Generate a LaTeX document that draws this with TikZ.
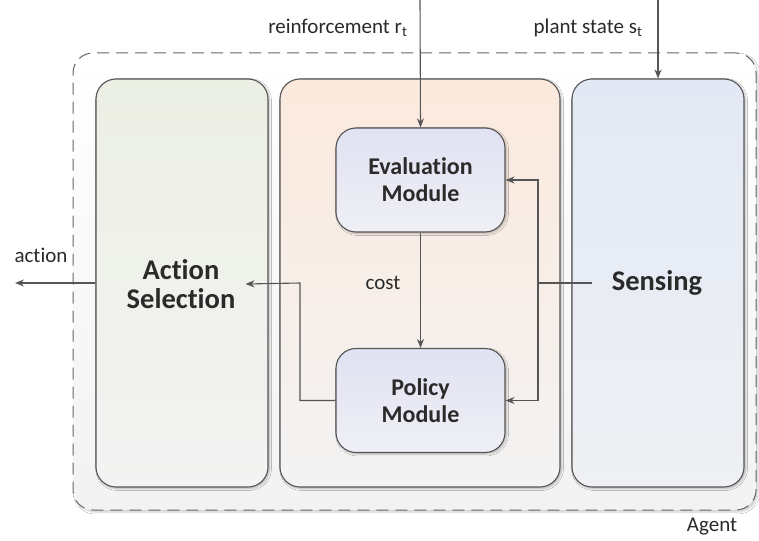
\documentclass[tikz,border=0pt]{standalone}
\usepackage{fontspec}
\setmainfont[Ligatures=NoCommon]{Carlito}
\usetikzlibrary{arrows.meta,shadows.blur}
\definecolor{linegray}{HTML}{555555}
\definecolor{txtgray}{HTML}{2A2A2A}
\definecolor{modtop}{HTML}{E1E2F2}
\definecolor{modbot}{HTML}{EFEFF5}
\definecolor{acttop}{HTML}{ECEFE4}
\definecolor{midtop}{HTML}{FBE9DD}
\definecolor{colbot}{HTML}{F3F3F3}
\definecolor{senstop}{HTML}{E3E9F4}
\definecolor{sensbot}{HTML}{EEF0F3}
\tikzset{
  column/.style={draw=linegray, line width=1.1pt, rounded corners=20pt,
    minimum width=172pt, minimum height=408pt, inner sep=0pt,
    blur shadow={shadow xshift=1.5pt, shadow yshift=-1.5pt, shadow blur steps=6, shadow opacity=25}},
  module/.style={draw=linegray, line width=1.1pt, rounded corners=20pt,
    minimum width=169pt, minimum height=104pt, align=center,
    top color=modtop, bottom color=modbot,
    font=\fontsize{24}{27}\selectfont\bfseries, text=txtgray,
    blur shadow={shadow xshift=1.5pt, shadow yshift=-1.5pt, shadow blur steps=6, shadow opacity=25}},
  title/.style={font=\fontsize{28.5}{29}\selectfont\bfseries, text=txtgray, align=center},
  lbl/.style={font=\fontsize{21}{24}\selectfont, text=txtgray},
  flow/.style={draw=linegray, line width=1.1pt, -{Stealth[length=9pt,width=7pt]}},
  wire/.style={draw=linegray, line width=1.1pt},
}
\begin{document}
\begin{tikzpicture}[x=1pt,y=-1pt]
\useasboundingbox (0,0) rectangle (759,540);
\fill[white] (0,0) rectangle (759,540);

% agent boundary
\node (agent) [draw=linegray!90, line width=1pt, dash pattern=on 12pt off 7pt,
  rounded corners=20pt, minimum width=683pt, minimum height=457pt,
  top color=white, bottom color=black!5,
  blur shadow={shadow xshift=2pt, shadow yshift=-2pt, shadow blur steps=8, shadow opacity=20}]
  at (414.5,281.5) {};
\node (agentlbl) [lbl] at (712,527) {Agent};

% three columns
\node (act) [column, top color=acttop, bottom color=colbot] at (182,283) {};
\node (mid) [column, top color=midtop, bottom color=colbot, minimum width=280pt] at (420,283) {};
\node (sens) [column, top color=senstop, bottom color=sensbot] at (658,283) {};

\node (acttxt) [title, inner sep=10pt] at (181,284) {Action\\Selection};
\node (senstxt) [title, inner sep=20pt] at (657,283) {Sensing};

% modules
\node (eval) [module] at (420.5,180) {Evaluation\\Module};
\node (pol) [module] at (420.5,400.5) {Policy\\Module};

% external signals
\coordinate (rin) at (420,0);
\coordinate (sin) at (658,0);
\coordinate (aout) at (15,283);
\node (rlbl) [lbl, anchor=east] at (411,28) {reinforcement r\textsubscript{t}};
\node (slbl) [lbl, anchor=east] at (646,28) {plant state s\textsubscript{t}};
\node (albl) [lbl] at (41,255) {action};

\draw[flow] (rin) -- (eval.north);
\draw[flow] (sin) -- (sens.north);
\draw[flow] (act.west) -- (aout);

% internal connections
\draw[flow] (eval.south) -- (pol.north);
\node (cost) [lbl] at (383,283) {cost};

\coordinate (junc) at (538,283);
\draw[wire] (senstxt.west) -- (junc);
\draw[flow] (junc) |- (eval.east);
\draw[flow] (junc) |- (pol.east);

\coordinate (bend) at (300,283);
\draw[flow] (pol.west) -| (bend) -- (acttxt.east);
\end{tikzpicture}
\end{document}
